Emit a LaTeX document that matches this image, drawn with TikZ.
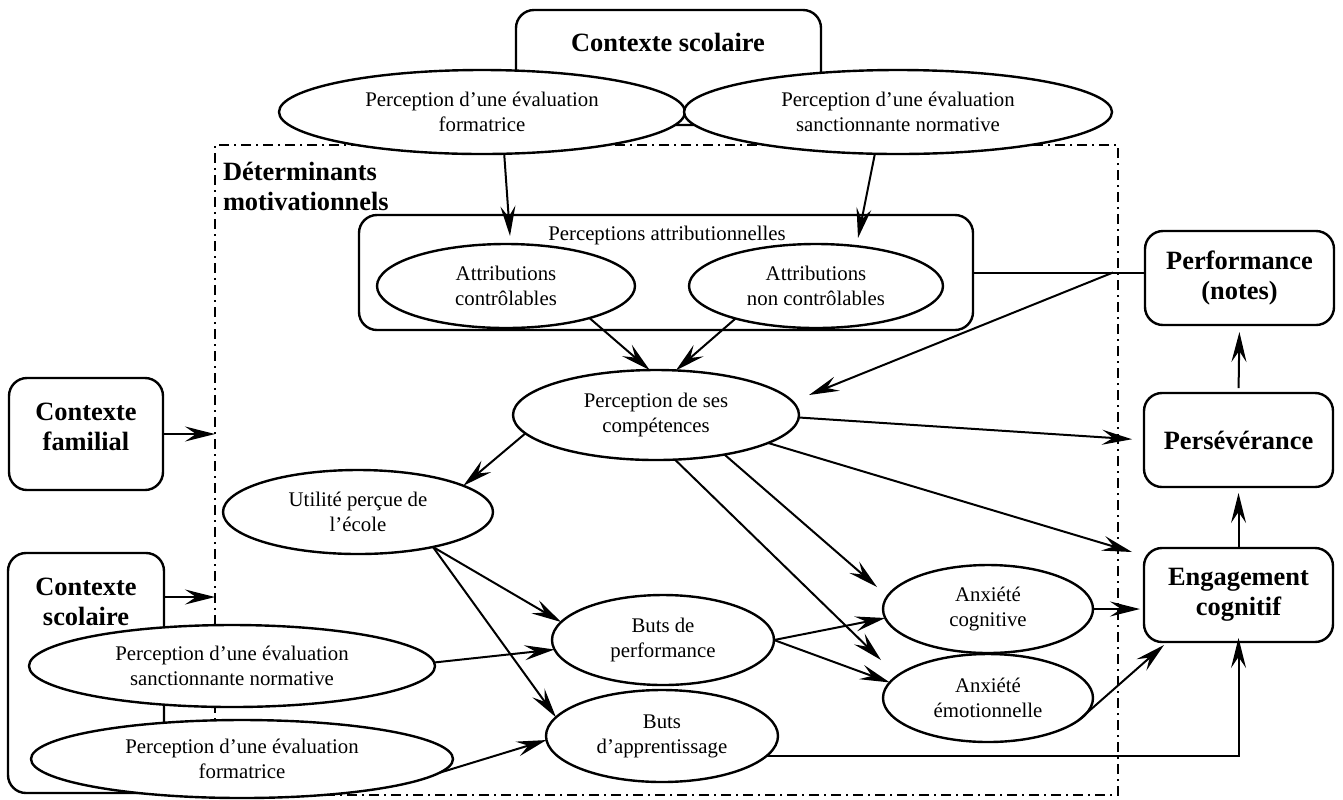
\documentclass[tikz,border=0pt]{standalone}
\usepackage{fontspec}
\setmainfont{Liberation Serif}
\usetikzlibrary{shapes.geometric,arrows.meta,calc}
\begin{document}
\begin{tikzpicture}[x=0.5pt,y=-0.5pt,
  every node/.style={font=\fontsize{10.4pt}{12.5pt}\selectfont, align=center, inner sep=0pt, outer sep=0pt},
  ell/.style 2 args={draw, ellipse, line width=1.2pt, fill=white, minimum width=#1pt, minimum height=#2pt},
  box/.style={draw, rounded corners=9pt, line width=1.2pt, fill=white},
  bold/.style={font=\fontsize{13.2pt}{15pt}\selectfont\bfseries},
  arr/.style={-{Stealth[length=15pt,width=7.5pt,inset=5.5pt]}, line width=1pt},
  conn/.style={line width=1pt},
  dashdot/.style={dash pattern=on 5pt off 2.5pt on 1pt off 2.5pt, line width=0.8pt}]
\useasboundingbox (0,0) rectangle (1343,799);

% dashed frame
\node[draw, dashdot, minimum width=451.5pt, minimum height=325pt] (det) at (666.5,470) {};
\node[bold, align=left, anchor=north west] (detl) at (223,162) {Déterminants\\motivationnels};

% top school context
\node[box, minimum width=152.5pt, minimum height=57.5pt] (ctxTop) at (668.5,67.5) {};
\node[bold] (ctxTopL) at (668,42) {Contexte scolaire};
\node[ell={203}{42}] (fTop) at (482,112) {Perception d’une évaluation\\formatrice};
\node[ell={214}{42}] (sTop) at (898,112) {Perception d’une évaluation\\sanctionnante normative};

% attributions
\node[box, minimum width=307pt, minimum height=57.5pt] (attrBox) at (666,272.5) {};
\node (attrL) at (667,235) {Perceptions attributionnelles};
\node[ell={129}{42}] (attrC) at (506,286) {Attributions\\contrôlables};
\node[ell={127}{42}] (attrN) at (816,286) {Attributions\\non contrôlables};

% inner ellipses
\node[ell={143}{45}] (comp) at (656,415) {Perception de ses\\compétences};
\node[ell={135}{42}] (util) at (358,512) {Utilité perçue de\\l’école};
\node[ell={111}{45}] (bperf) at (663,640) {Buts de\\performance};
\node[ell={116}{46}] (bapp) at (662,736) {Buts\\d’apprentissage};
\node[ell={105}{44}] (anxC) at (988,609) {Anxiété\\cognitive};
\node[ell={105}{44}] (anxE) at (988,698) {Anxiété\\émotionnelle};

% right boxes
\node[box, bold, minimum width=94.5pt, minimum height=47pt] (perf) at (1239.5,278) {Performance\\(notes)};
\node[box, bold, minimum width=94.5pt, minimum height=47pt] (pers) at (1238.5,440) {Persévérance};
\node[box, bold, minimum width=94.5pt, minimum height=47pt] (eng) at (1238.5,595) {Engagement\\cognitif};

% left boxes
\node[box, minimum width=77pt, minimum height=56pt] (fam) at (86,434) {};
\node[bold] (famL) at (86,427) {Contexte\\familial};
\node[box, minimum width=78pt, minimum height=120pt] (scoL) at (86,673) {};
\node[bold] (scoLL) at (86,602) {Contexte\\scolaire};
\node[ell={203}{41}] (sLeft) at (232,666) {Perception d’une évaluation\\sanctionnante normative};
\node[ell={211}{39}] (fLeft) at (242,759) {Perception d’une évaluation\\formatrice};

% helper coordinates
\coordinate (t1) at ($(attrBox.north west)+(151,21)$);
\coordinate (t2) at ($(attrBox.north west)+(499,23)$);
\coordinate (j1) at ($(attrBox.east -| det.east)+(-5,0)$);
\coordinate (tipF) at ($(comp.east)+(10,-20)$);
\coordinate (s1) at ($(scoL.north east)+(0,44)$);

% connectors
\draw[arr] (fTop.-62) -- (t1);
\draw[arr] (sTop.-119) -- (t2);
\draw[conn] (attrBox.east) -- (attrBox.east -| perf.west);
\draw[arr] (j1) -- (tipF);
\draw[arr] (attrC.-21) -- (comp.98);
\draw[arr] (attrN.-158) -- (comp.66);
\draw[arr, shorten >=6pt] (comp.-1) -- (pers.west);
\draw[arr] (comp.-14) -- ($(eng.north west)+(-12,4)$);
\draw[arr] (comp.-67) -- ($(anxE.west)+(-2,-38)$);
\draw[arr] (comp.-30) -- ($(anxC.west)+(-6,-22)$);
\draw[arr] (comp.188) -- (util.14);
\draw[arr] (util.-25) -- (bperf.170);
\draw[arr] (util.-25) -- (bapp.170);
\draw[arr] (sLeft.1) -- (bperf.185);
\draw[arr] (fLeft.-4) -- (bapp.182);
\draw[arr] (bperf.east) -- (anxC.185);
\draw[arr] (bperf.east) -- (anxE.171);
\draw[arr, shorten >=2pt] (anxC.east) -- (anxC.east -| eng.west);
\draw[arr] (anxE.-14) -- ($(eng.south west)+(20,3)$);
\draw[arr] (bapp.-11) -- (bapp.-11 -| eng.south) -- ([yshift=2pt]eng.south);
\draw[arr, shorten <=2.5pt, shorten >=3.5pt] (pers.north) -- (perf.south);
\draw[arr, shorten >=3pt] (eng.north) -- (pers.south);
\draw[arr] (fam.east) -- (fam.east -| det.west);
\draw[arr] (s1) -- (s1 -| det.west);
\end{tikzpicture}
\end{document}
